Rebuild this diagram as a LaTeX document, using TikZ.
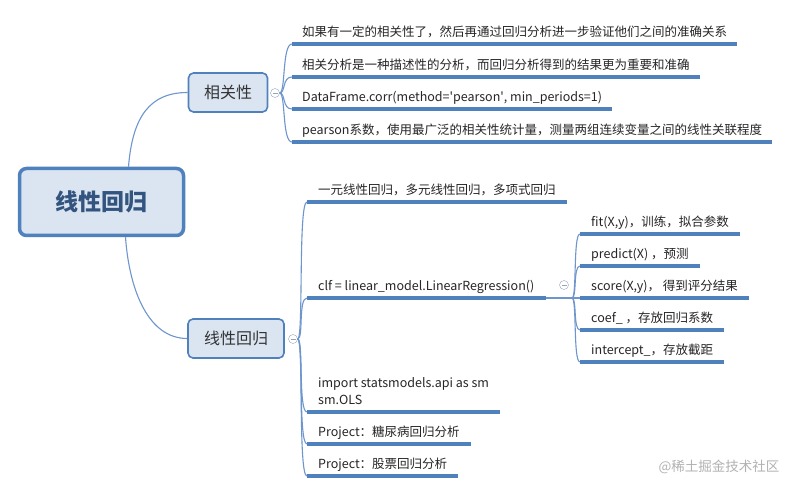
\documentclass[tikz,border=0pt]{standalone}
\usepackage{fontspec}
\setmainfont{Noto Sans CJK SC}
\usetikzlibrary{calc}
\definecolor{mmblue}{RGB}{79,129,189}
\definecolor{mmfill}{RGB}{219,229,241}
\definecolor{mmline}{RGB}{110,150,205}
\definecolor{mmtext}{RGB}{52,84,128}
\definecolor{mmgray}{RGB}{150,165,185}
\tikzset{
  hub/.style={draw=mmblue,line width=3.5pt,fill=mmfill,rounded corners=7pt,
    minimum width=164pt,minimum height=67pt,text=mmtext,
    font=\fontsize{23}{26}\selectfont\bfseries},
  topic/.style={draw=mmblue,line width=1.6pt,fill=mmfill,rounded corners=5pt,
    minimum height=39pt,text=black!80,font=\fontsize{16}{18}\selectfont},
  leaf/.style={anchor=south west,inner xsep=11pt,inner ysep=3pt,text depth=4pt,
    align=left,text=black!85,font=\fontsize{12.5}{17}\selectfont},
  fold/.style={circle,draw=mmgray,fill=white,thin,inner sep=0pt,minimum size=9pt},
  twig/.style={draw=mmline,line width=1.1pt},
  uline/.style={draw=mmblue,line width=3.5pt},
}
\newcommand\foldsign[1]{\draw[mmgray,thin] ($(#1)+(-2.5,0)$) -- ($(#1)+(2.5,0)$);}
\begin{document}
\begin{tikzpicture}[x=1pt,y=-1pt]
  \fill[white] (0,0) rectangle (811,494);
  \useasboundingbox (0,0) rectangle (811,494);

  % central topic and the two main branches
  \node[hub] (hub) at (101.5,202) {线性回归};
  \node[topic,minimum width=79pt] (rel) at (228,92.5) {相关性};
  \node[topic,minimum width=96pt] (lin) at (236,338.5) {线性回归};
  \draw[twig] ([xshift=27pt]hub.north) .. controls +(4,-50) and +(-38,0) .. (rel.west);
  \draw[twig] ([xshift=24pt]hub.south) .. controls +(4,55) and +(-38,0) .. (lin.west);
  \node[fold] (rf) at (275,93) {}; \foldsign{rf}
  \node[fold] (lf) at (293,339) {}; \foldsign{lf}

  % 相关性
  \node[leaf,inner xsep=10pt] (r1) at (292,44) {如果有一定的相关性了，然后再通过回归分析进一步验证他们之间的准确关系};
  \node[leaf,inner xsep=10pt] (r2) at (292,77) {相关分析是一种描述性的分析，而回归分析得到的结果更为重要和准确};
  \node[leaf,inner xsep=10pt] (r3) at (292,109) {DataFrame.corr(method=\textquotesingle pearson\textquotesingle, min\_periods=1)};
  \node[leaf,inner xsep=10pt] (r4) at (292,142) {pearson系数，使用最广泛的相关性统计量，测量两组连续变量之间的线性关联程度};
  \foreach \n in {r1,r2,r3,r4} {
    \draw[twig] (rf.east) .. controls +(6,0) and +(-10,0) .. (\n.south west);
    \draw[uline] (\n.south west) -- (\n.south east);
  }

  % 线性回归
  \node[leaf] (l1) at (307,202) {一元线性回归，多元线性回归，多项式回归};
  \node[leaf] (l2) at (307,298) {clf = linear\_model.LinearRegression()};
  \node[leaf] (l3) at (307,412) {import statsmodels.api as sm\\sm.OLS};
  \node[leaf] (l4) at (307,444) {Project：糖尿病回归分析};
  \node[leaf] (l5) at (307,476) {Project：股票回归分析};
  \foreach \n in {l1,l2,l3,l4,l5} {
    \draw[twig] (lf.east) .. controls +(6,0) and +(-9,0) .. (\n.south west);
    \draw[uline] (\n.south west) -- (\n.south east);
  }

  % clf 的方法
  \node[fold] (cf) at (564,285) {}; \foldsign{cf}
  \coordinate (fan) at (572,298);
  \draw[twig] (l2.south east) -- (fan);
  \node[leaf] (s1) at (580,234) {fit(X,y)，训练，拟合参数};
  \node[leaf] (s2) at (580,266) {predict(X) ，预测};
  \node[leaf] (s3) at (580,298) {score(X,y)， 得到评分结果};
  \node[leaf] (s4) at (580,330) {coef\_ ，存放回归系数};
  \node[leaf] (s5) at (580,362) {intercept\_，存放截距};
  \foreach \n in {s1,s2,s3,s4,s5} {
    \draw[twig] (fan) .. controls +(5,0) and +(-7,0) .. (\n.south west);
    \draw[uline] (\n.south west) -- (\n.south east);
  }

  \node[text=black!30,font=\fontsize{13.5}{16}\selectfont] (wm) at (719,467) {@稀土掘金技术社区};
\end{tikzpicture}
\end{document}
